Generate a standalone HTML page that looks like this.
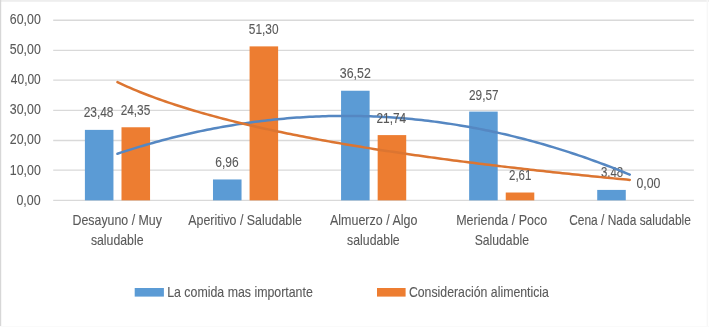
<!DOCTYPE html>
<html><head><meta charset="utf-8"><style>
html,body{margin:0;padding:0;background:#fff;}
svg{display:block;will-change:transform;}
text{font-family:"Liberation Sans",sans-serif;font-size:14.2px;fill:#595959;stroke:#595959;stroke-width:0.1px;}
</style></head><body>
<svg width="709" height="327" viewBox="0 0 709 327">
<rect x="0" y="0" width="709" height="327" fill="#fff"/>
<rect x="0" y="0" width="709" height="1.8" fill="#EEEEEE"/><rect x="0" y="0" width="1.2" height="327" fill="#D7D7D7"/><rect x="706.6" y="0" width="1.3" height="327" fill="#F7F7F7"/><rect x="0" y="326" width="709" height="1" fill="#FAFAFA"/>
<line x1="53.2" y1="200.35" x2="693.9" y2="200.35" stroke="#D9D9D9" stroke-width="1.3"/>
<line x1="53.2" y1="170.20" x2="693.9" y2="170.20" stroke="#D9D9D9" stroke-width="1.3"/>
<line x1="53.2" y1="140.50" x2="693.9" y2="140.50" stroke="#D9D9D9" stroke-width="1.3"/>
<line x1="53.2" y1="110.35" x2="693.9" y2="110.35" stroke="#D9D9D9" stroke-width="1.3"/>
<line x1="53.2" y1="80.05" x2="693.9" y2="80.05" stroke="#D9D9D9" stroke-width="1.3"/>
<line x1="53.2" y1="50.44" x2="693.9" y2="50.44" stroke="#D9D9D9" stroke-width="1.3"/>
<line x1="53.2" y1="20.27" x2="693.9" y2="20.27" stroke="#D9D9D9" stroke-width="1.3"/>
<rect x="84.90" y="129.88" width="28.55" height="70.47" fill="#5B9BD5"/>
<rect x="121.50" y="127.27" width="28.55" height="73.08" fill="#ED7D31"/>
<rect x="212.98" y="179.46" width="28.55" height="20.89" fill="#5B9BD5"/>
<rect x="249.58" y="46.38" width="28.55" height="153.97" fill="#ED7D31"/>
<rect x="341.06" y="90.74" width="28.55" height="109.61" fill="#5B9BD5"/>
<rect x="377.66" y="135.10" width="28.55" height="65.25" fill="#ED7D31"/>
<rect x="469.14" y="111.60" width="28.55" height="88.75" fill="#5B9BD5"/>
<rect x="505.74" y="192.52" width="28.55" height="7.83" fill="#ED7D31"/>
<rect x="597.22" y="189.91" width="28.55" height="10.44" fill="#5B9BD5"/>
<rect x="633.82" y="200.35" width="28.55" height="0.00" fill="#ED7D31"/>
<text x="9.84" y="23.80" textLength="30.93" lengthAdjust="spacingAndGlyphs">60,00</text>
<text x="9.84" y="53.90" textLength="30.93" lengthAdjust="spacingAndGlyphs">50,00</text>
<text x="10.86" y="84.00" textLength="29.90" lengthAdjust="spacingAndGlyphs">40,00</text>
<text x="9.84" y="114.20" textLength="30.93" lengthAdjust="spacingAndGlyphs">30,00</text>
<text x="9.84" y="144.30" textLength="30.93" lengthAdjust="spacingAndGlyphs">20,00</text>
<text x="9.84" y="174.60" textLength="30.93" lengthAdjust="spacingAndGlyphs">10,00</text>
<text x="16.40" y="204.60" textLength="24.19" lengthAdjust="spacingAndGlyphs">0,00</text>
<text x="72.58" y="225.20" textLength="89.29" lengthAdjust="spacingAndGlyphs">Desayuno / Muy</text>
<text x="90.89" y="245.00" textLength="52.60" lengthAdjust="spacingAndGlyphs">saludable</text>
<text x="188.33" y="225.20" textLength="113.52" lengthAdjust="spacingAndGlyphs">Aperitivo / Saludable</text>
<text x="329.97" y="225.20" textLength="87.43" lengthAdjust="spacingAndGlyphs">Almuerzo / Algo</text>
<text x="347.08" y="245.00" textLength="52.63" lengthAdjust="spacingAndGlyphs">saludable</text>
<text x="456.16" y="225.20" textLength="91.13" lengthAdjust="spacingAndGlyphs">Merienda / Poco</text>
<text x="474.70" y="245.00" textLength="54.25" lengthAdjust="spacingAndGlyphs">Saludable</text>
<text x="569.16" y="225.20" textLength="121.70" lengthAdjust="spacingAndGlyphs">Cena / Nada saludable</text>
<text x="167.18" y="296.50" textLength="145.64" lengthAdjust="spacingAndGlyphs">La comida mas importante</text>
<text x="408.92" y="296.50" textLength="140.00" lengthAdjust="spacingAndGlyphs">Consideración alimenticia</text>
<text x="83.64" y="116.80" textLength="29.89" lengthAdjust="spacingAndGlyphs">23,48</text>
<text x="215.23" y="166.50" textLength="23.36" lengthAdjust="spacingAndGlyphs">6,96</text>
<text x="339.84" y="78.20" textLength="30.93" lengthAdjust="spacingAndGlyphs">36,52</text>
<text x="469.05" y="99.60" textLength="29.48" lengthAdjust="spacingAndGlyphs">29,57</text>
<text x="601.02" y="177.10" textLength="22.16" lengthAdjust="spacingAndGlyphs">3,48</text>
<polyline points="117.45,153.74 120.65,152.68 123.85,151.64 127.06,150.62 130.26,149.61 133.46,148.61 136.66,147.63 139.86,146.67 143.07,145.72 146.27,144.78 149.47,143.86 152.67,142.95 155.87,142.06 159.08,141.19 162.28,140.33 165.48,139.48 168.68,138.65 171.88,137.83 175.09,137.03 178.29,136.24 181.49,135.47 184.69,134.71 187.89,133.97 191.10,133.25 194.30,132.53 197.50,131.84 200.70,131.15 203.90,130.49 207.11,129.83 210.31,129.20 213.51,128.57 216.71,127.97 219.91,127.37 223.12,126.80 226.32,126.23 229.52,125.69 232.72,125.15 235.92,124.63 239.13,124.13 242.33,123.64 245.53,123.17 248.73,122.71 251.93,122.27 255.14,121.84 258.34,121.42 261.54,121.02 264.74,120.64 267.94,120.27 271.15,119.92 274.35,119.58 277.55,119.25 280.75,118.94 283.95,118.65 287.16,118.37 290.36,118.11 293.56,117.86 296.76,117.62 299.96,117.40 303.17,117.20 306.37,117.01 309.57,116.83 312.77,116.67 315.97,116.52 319.18,116.39 322.38,116.28 325.58,116.18 328.78,116.09 331.98,116.02 335.19,115.97 338.39,115.92 341.59,115.90 344.79,115.89 347.99,115.89 351.20,115.91 354.40,115.94 357.60,115.99 360.80,116.06 364.00,116.13 367.21,116.23 370.41,116.33 373.61,116.46 376.81,116.60 380.01,116.75 383.22,116.92 386.42,117.10 389.62,117.30 392.82,117.51 396.02,117.74 399.23,117.98 402.43,118.24 405.63,118.51 408.83,118.80 412.03,119.10 415.24,119.41 418.44,119.75 421.64,120.09 424.84,120.45 428.04,120.83 431.25,121.22 434.45,121.63 437.65,122.05 440.85,122.49 444.05,122.94 447.26,123.40 450.46,123.88 453.66,124.38 456.86,124.89 460.06,125.42 463.27,125.96 466.47,126.51 469.67,127.08 472.87,127.67 476.07,128.27 479.28,128.88 482.48,129.51 485.68,130.16 488.88,130.82 492.08,131.49 495.29,132.18 498.49,132.89 501.69,133.61 504.89,134.34 508.09,135.09 511.30,135.86 514.50,136.63 517.70,137.43 520.90,138.24 524.10,139.06 527.31,139.90 530.51,140.75 533.71,141.62 536.91,142.51 540.11,143.40 543.32,144.32 546.52,145.25 549.72,146.19 552.92,147.15 556.12,148.12 559.33,149.11 562.53,150.11 565.73,151.13 568.93,152.16 572.13,153.21 575.34,154.27 578.54,155.35 581.74,156.44 584.94,157.55 588.14,158.67 591.35,159.81 594.55,160.96 597.75,162.13 600.95,163.31 604.15,164.51 607.36,165.72 610.56,166.94 613.76,168.19 616.96,169.44 620.16,170.71 623.37,172.00 626.57,173.30 629.77,174.62" fill="none" stroke="#5587C2" stroke-width="2.5" stroke-linecap="round"/>
<polyline points="117.45,82.17 120.65,83.67 123.85,85.14 127.06,86.57 130.26,87.96 133.46,89.33 136.66,90.66 139.86,91.97 143.07,93.25 146.27,94.50 149.47,95.73 152.67,96.93 155.87,98.11 159.08,99.26 162.28,100.40 165.48,101.51 168.68,102.61 171.88,103.68 175.09,104.74 178.29,105.78 181.49,106.80 184.69,107.80 187.89,108.79 191.10,109.76 194.30,110.72 197.50,111.66 200.70,112.59 203.90,113.50 207.11,114.40 210.31,115.29 213.51,116.16 216.71,117.02 219.91,117.87 223.12,118.71 226.32,119.53 229.52,120.35 232.72,121.15 235.92,121.95 239.13,122.73 242.33,123.51 245.53,124.27 248.73,125.02 251.93,125.77 255.14,126.51 258.34,127.23 261.54,127.95 264.74,128.66 267.94,129.36 271.15,130.06 274.35,130.74 277.55,131.42 280.75,132.09 283.95,132.76 287.16,133.41 290.36,134.06 293.56,134.71 296.76,135.34 299.96,135.97 303.17,136.59 306.37,137.21 309.57,137.82 312.77,138.43 315.97,139.02 319.18,139.62 322.38,140.20 325.58,140.78 328.78,141.36 331.98,141.93 335.19,142.50 338.39,143.06 341.59,143.61 344.79,144.16 347.99,144.70 351.20,145.24 354.40,145.78 357.60,146.31 360.80,146.84 364.00,147.36 367.21,147.87 370.41,148.39 373.61,148.89 376.81,149.40 380.01,149.90 383.22,150.39 386.42,150.89 389.62,151.37 392.82,151.86 396.02,152.34 399.23,152.81 402.43,153.29 405.63,153.76 408.83,154.22 412.03,154.68 415.24,155.14 418.44,155.60 421.64,156.05 424.84,156.50 428.04,156.94 431.25,157.38 434.45,157.82 437.65,158.26 440.85,158.69 444.05,159.12 447.26,159.54 450.46,159.97 453.66,160.39 456.86,160.80 460.06,161.22 463.27,161.63 466.47,162.04 469.67,162.45 472.87,162.85 476.07,163.25 479.28,163.65 482.48,164.04 485.68,164.44 488.88,164.83 492.08,165.22 495.29,165.60 498.49,165.98 501.69,166.37 504.89,166.74 508.09,167.12 511.30,167.49 514.50,167.86 517.70,168.23 520.90,168.60 524.10,168.97 527.31,169.33 530.51,169.69 533.71,170.05 536.91,170.40 540.11,170.76 543.32,171.11 546.52,171.46 549.72,171.81 552.92,172.15 556.12,172.50 559.33,172.84 562.53,173.18 565.73,173.52 568.93,173.85 572.13,174.19 575.34,174.52 578.54,174.85 581.74,175.18 584.94,175.51 588.14,175.84 591.35,176.16 594.55,176.48 597.75,176.80 600.95,177.12 604.15,177.44 607.36,177.75 610.56,178.07 613.76,178.38 616.96,178.69 620.16,179.00 623.37,179.31 626.57,179.61 629.77,179.92" fill="none" stroke="#DC7531" stroke-width="2.5" stroke-linecap="round"/>
<text x="120.64" y="114.70" textLength="29.64" lengthAdjust="spacingAndGlyphs">24,35</text>
<text x="248.85" y="33.80" textLength="29.68" lengthAdjust="spacingAndGlyphs">51,30</text>
<text x="376.45" y="123.00" textLength="29.74" lengthAdjust="spacingAndGlyphs">21,74</text>
<text x="509.02" y="180.00" textLength="22.35" lengthAdjust="spacingAndGlyphs">2,61</text>
<text x="636.40" y="187.60" textLength="24.01" lengthAdjust="spacingAndGlyphs">0,00</text>
<rect x="134.7" y="288" width="29.2" height="8.6" fill="#5B9BD5"/>
<rect x="377" y="288" width="28.6" height="8.6" fill="#ED7D31"/>
</svg>
</body></html>
